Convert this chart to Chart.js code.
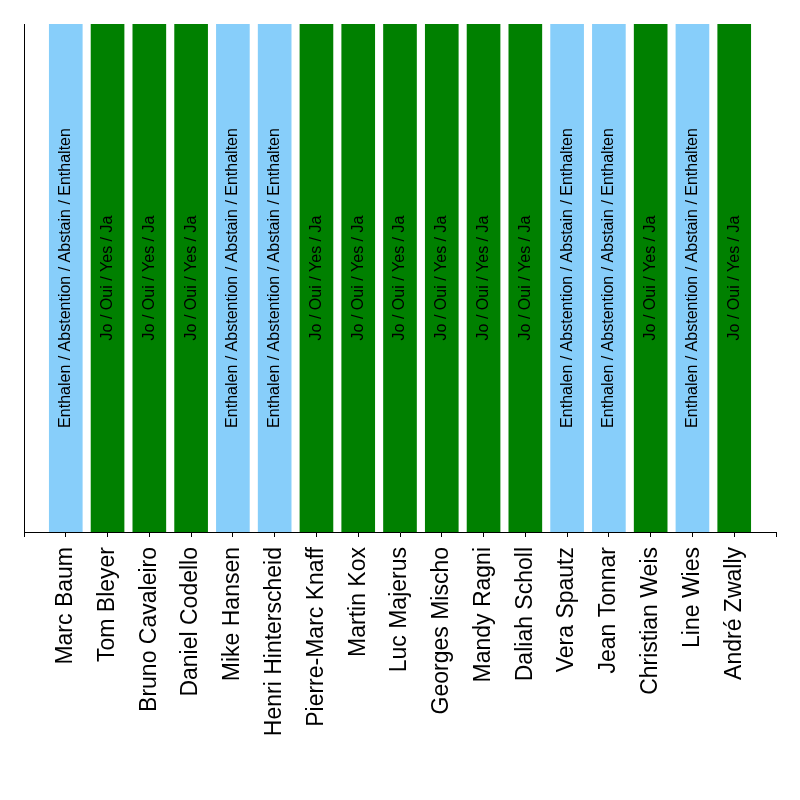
<!DOCTYPE html>
<html>
<head>
<meta charset="utf-8">
<script src="https://cdn.jsdelivr.net/npm/chart.js@4"></script>
<style>
  html, body { margin: 0; padding: 0; background: #fff; }
  #wrap { width: 800px; height: 800px; }
</style>
</head>
<body>
<div id="wrap"><canvas id="voteChart"></canvas></div>
<script>
// deputies and how they voted
const names = ['Marc Baum', 'Tom Bleyer', 'Bruno Cavaleiro', 'Daniel Codello', 'Mike Hansen',
    'Henri Hinterscheid', 'Pierre-Marc Knaff', 'Martin Kox', 'Luc Majerus', 'Georges Mischo',
    'Mandy Ragni', 'Daliah Scholl', 'Vera Spautz', 'Jean Tonnar', 'Christian Weis', 'Line Wies',
    'André Zwally'];
const votes = ['abs', 'yes', 'yes', 'yes', 'abs', 'abs', 'yes', 'yes', 'yes', 'yes',
    'yes', 'yes', 'abs', 'abs', 'yes', 'abs', 'yes'];
const barValues = [1, 1, 1, 1, 1, 1, 1, 1, 1, 1, 1, 1, 1, 1, 1, 1, 1];
const voteText = {
    abs: 'Enthalen / Abstention / Abstain / Enthalten',
    yes: 'Jo / Oui / Yes / Ja'
};
const voteColor = { abs: '#87CEFA', yes: '#008000' };

const pad = 1; // empty room left and right of the bars, in category units

// writes the vote text inside each bar, turned upright
const barTextPlugin = {
    id: 'barText',
    afterDatasetsDraw(chart) {
        const ctx = chart.ctx;
        const meta = chart.getDatasetMeta(0);
        const yScale = chart.scales.y;
        const midY = (yScale.getPixelForValue(0) + yScale.getPixelForValue(1)) / 2;
        ctx.save();
        ctx.font = '16px "Liberation Sans", Arial, sans-serif';
        ctx.fillStyle = '#000';
        ctx.textAlign = 'center';
        ctx.textBaseline = 'middle';
        meta.data.forEach((bar, i) => {
            ctx.save();
            ctx.translate(bar.x, midY);
            ctx.rotate(-Math.PI / 2);
            ctx.fillText(voteText[votes[i]], 0, 0);
            ctx.restore();
        });
        ctx.restore();
    }
};

const ctx1 = document.getElementById('voteChart');

new Chart(ctx1, {
    type: 'bar',
    data: {
        datasets: [{
            data: barValues.map((v, i) => ({ x: i, y: v })),
            backgroundColor: votes.map(v => voteColor[v]),
            barThickness: 33,
            borderWidth: 0
        }]
    },
    options: {
        responsive: true,
        maintainAspectRatio: false,
        animation: false,
        layout: { padding: { left: 24, right: 24, top: 24, bottom: 0 } },
        plugins: {
            legend: { display: false },
            tooltip: { enabled: false }
        },
        scales: {
            x: {
                type: 'linear',
                offset: false,
                min: -pad,
                max: names.length - 1 + pad,
                afterBuildTicks: (axis) => {
                    const t = [{ value: -pad }];
                    names.forEach((n, i) => t.push({ value: i }));
                    t.push({ value: names.length - 1 + pad });
                    axis.ticks = t;
                },
                afterFit: (axis) => {
                    axis.height = 268;
                    axis.paddingLeft = 0;
                    axis.paddingRight = 0;
                },
                border: { display: true, color: '#000', width: 1 },
                grid: { offset: false, drawOnChartArea: false, drawTicks: true, tickLength: 5, color: '#000' },
                ticks: {
                    autoSkip: false,
                    minRotation: 90,
                    maxRotation: 90,
                    padding: 10,
                    color: '#000',
                    font: { family: '"Liberation Sans", Arial, sans-serif', size: 23 },
                    callback: (value) => (value >= 0 && value < names.length) ? names[value] : ''
                }
            },
            y: {
                min: 0,
                max: 1,
                afterFit: (axis) => { axis.width = 0; },
                border: { display: true, color: '#000', width: 1 },
                grid: { display: false },
                ticks: { display: false }
            }
        }
    },
    plugins: [barTextPlugin]
});
</script>
</body>
</html>
